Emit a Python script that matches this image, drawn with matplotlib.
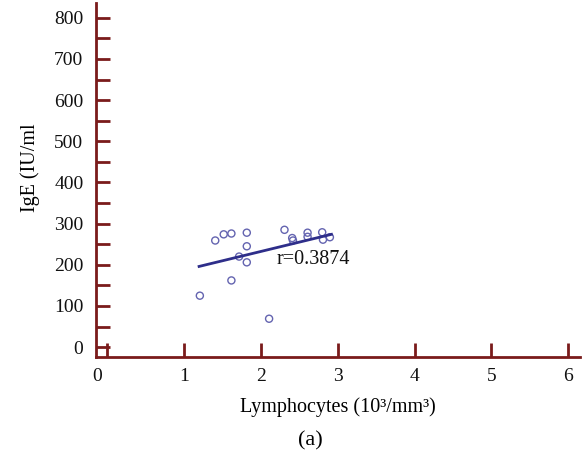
import matplotlib
matplotlib.use("Agg")
import matplotlib.pyplot as plt
from matplotlib.transforms import ScaledTranslation

lymph = [1.41, 1.52, 1.62, 1.82, 1.82, 1.72, 1.82, 1.62, 1.21, 2.11,
         2.31, 2.41, 2.42, 2.61, 2.61, 2.80, 2.81, 2.90]
ige = [259, 274, 276, 278, 245, 220, 206, 162, 125, 69,
       285, 265, 259, 278, 268, 279, 261, 267]
fit_x = [1.2, 2.92]
fit_y = [196, 274]
r_label = "r=0.3874"
x_ticks = [0, 1, 2, 3, 4, 5, 6]
y_major = [0, 100, 200, 300, 400, 500, 600, 700, 800]
y_minor = [50, 150, 250, 350, 450, 550, 650, 750]

plt.rcParams['font.family'] = ['Liberation Serif', 'DejaVu Serif']
axc = '#7a1b1b'

fig = plt.figure(figsize=(5.87, 4.59), dpi=100)
ax = fig.add_axes([0.1635, 0.2222, 0.8245, 0.7713])

ax.scatter(lymph, ige, s=26, facecolors='none', edgecolors='#6464b0', linewidths=1.0, zorder=3)
ax.plot(fit_x, fit_y, color='#2e2e8a', lw=2, zorder=4)
ax.text(2.21, 212, r_label, fontsize=14.5, va='center', ha='left', color='#111111')

ax.set_xlim(-0.14, 6.15)
ax.set_ylim(-24, 836)
ax.set_xticks(x_ticks)
ax.set_yticks(y_major)
ax.set_yticks(y_minor, minor=True)

for s in ['top', 'right']:
    ax.spines[s].set_visible(False)
for s in ['left', 'bottom']:
    ax.spines[s].set_color(axc)
    ax.spines[s].set_linewidth(2)

ax.tick_params(axis='both', which='both', direction='in', length=10, width=2,
               color=axc, labelsize=14, labelcolor='#111111')
ax.tick_params(axis='x', pad=8)
ax.tick_params(axis='y', pad=9)

fig.canvas.draw()
lab0 = ax.get_xticklabels()[0]
lab0.set_transform(lab0.get_transform() + ScaledTranslation(-0.10, 0, fig.dpi_scale_trans))

ax.set_xlabel("Lymphocytes (10³/mm³)", fontsize=14.5, labelpad=9)
ax.set_ylabel("IgE (IU/ml", fontsize=14.5)
ax.yaxis.set_label_coords(-0.115, 0.535)
fig.text(0.528, 0.04, "(a)", fontsize=16, ha='center', va='center')

fig.savefig("out.png", dpi=100, facecolor='white')
